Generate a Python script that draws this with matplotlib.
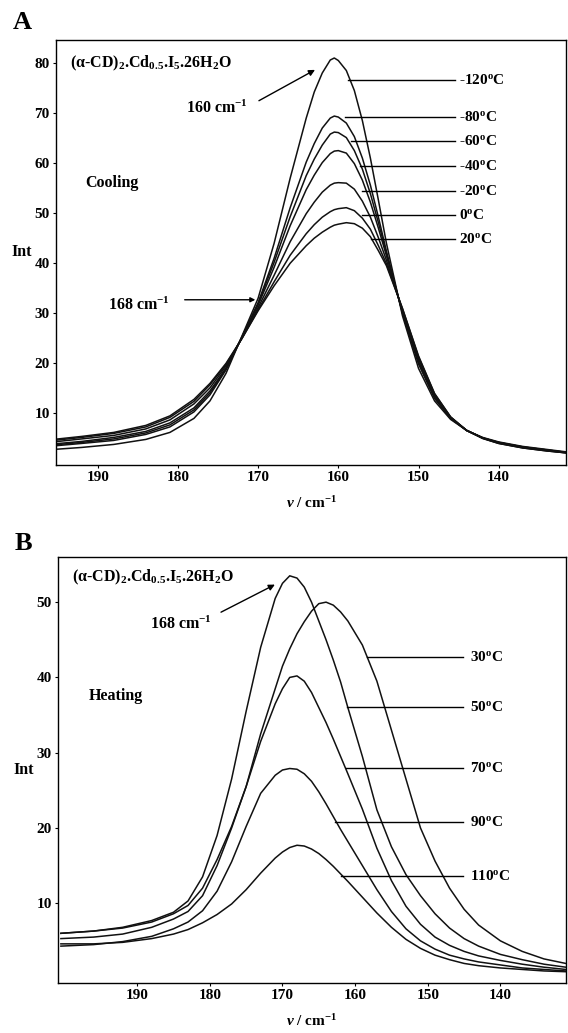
import numpy as np
import matplotlib
matplotlib.use('Agg')
import matplotlib.pyplot as plt

# panel A, cooling
x_cool = [195.5, 192, 188, 184, 181, 178, 176, 174, 172, 170, 168, 166, 164, 163, 162, 161, 160.5, 160,
          159, 158, 157, 156, 155, 154, 152, 150, 148, 146, 144, 142, 140, 137, 134, 131.5]
cool_m120 = [2.8, 3.2, 3.8, 4.8, 6.2, 9.0, 12.5, 18.0, 25.5, 33.0, 44.0, 57.0, 69.0, 74.2, 78.0, 80.6, 81.0, 80.5,
             78.5, 74.5, 68.5, 61.0, 52.6, 44.0, 29.5, 19.0, 12.5, 8.8, 6.6, 5.2, 4.3, 3.4, 2.8, 2.3]
cool_m80 = [3.5, 4.0, 4.6, 5.8, 7.3, 10.3, 13.7, 18.7, 25.3, 32.1, 41.0, 51.1, 60.2, 63.9, 67.0, 69.0, 69.4, 69.2,
            68.0, 65.3, 61.0, 55.6, 49.2, 42.4, 30.0, 19.9, 13.0, 9.0, 6.6, 5.1, 4.2, 3.3, 2.7, 2.2]
cool_m60 = [3.7, 4.2, 4.9, 6.1, 7.7, 10.7, 14.1, 18.9, 25.3, 31.9, 40.2, 49.3, 57.5, 60.8, 63.6, 65.8, 66.2, 66.1,
            65.1, 62.5, 58.8, 53.9, 48.1, 42.0, 30.2, 20.1, 13.2, 9.0, 6.6, 5.1, 4.2, 3.3, 2.7, 2.2]
cool_m40 = [3.9, 4.4, 5.2, 6.4, 8.1, 11.1, 14.5, 19.1, 25.2, 31.6, 39.2, 47.5, 54.7, 57.6, 60.1, 61.9, 62.4, 62.5,
            62.0, 59.9, 56.6, 52.2, 47.0, 41.5, 30.3, 20.4, 13.3, 9.1, 6.6, 5.1, 4.1, 3.2, 2.6, 2.2]
cool_m20 = [4.3, 4.9, 5.6, 6.9, 8.7, 11.9, 15.1, 19.5, 25.1, 31.1, 37.6, 44.3, 49.9, 52.2, 54.2, 55.6, 56.0, 56.1,
            56.0, 54.8, 52.4, 49.2, 45.1, 40.6, 30.6, 20.9, 13.6, 9.2, 6.6, 5.1, 4.1, 3.2, 2.6, 2.1]
cool_0 = [4.6, 5.2, 6.0, 7.3, 9.2, 12.4, 15.7, 19.8, 25.0, 30.7, 36.3, 41.6, 45.9, 47.7, 49.2, 50.3, 50.7, 50.9,
          51.1, 50.5, 49.0, 46.8, 43.5, 39.9, 30.9, 21.3, 13.9, 9.3, 6.6, 5.0, 4.0, 3.1, 2.5, 2.1]
cool_20 = [4.8, 5.4, 6.2, 7.6, 9.5, 12.8, 16.0, 20.0, 25.0, 30.5, 35.5, 40.0, 43.5, 45.0, 46.2, 47.2, 47.6, 47.8,
           48.1, 47.9, 47.0, 45.3, 42.5, 39.5, 31.0, 21.5, 14.0, 9.3, 6.6, 5.0, 4.0, 3.1, 2.5, 2.1]
cool_names = ['-120', '-80', '-60', '-40', '-20', '0', '20']
cool_lab_y = [76.6, 69.3, 64.4, 59.5, 54.5, 49.6, 44.8]
cool_lab_x = [158.8, 159.2, 158.4, 157.3, 157.1, 157.0, 155.9]

# panel B, heating
x_heat = [200.5, 196, 192, 188, 185, 183, 181, 179, 177, 175, 173, 171, 170, 169, 168, 167, 166,
          165, 164, 163, 162, 161, 159, 157, 155, 153, 151, 149, 147, 145, 143, 140, 137, 134, 131]
heat_30 = [6.0, 6.3, 6.7, 7.5, 8.6, 9.7, 12.0, 15.8, 20.2, 25.5, 32.5, 38.5, 41.5, 43.8, 45.8, 47.4, 48.8,
           49.8, 50.0, 49.6, 48.7, 47.5, 44.3, 39.5, 33.0, 26.5, 20.0, 15.6, 12.0, 9.2, 7.1, 5.0, 3.6, 2.6, 2.0]
heat_50 = [6.0, 6.3, 6.8, 7.7, 8.8, 10.3, 13.5, 19.0, 26.5, 35.5, 44.0, 50.5, 52.5, 53.5, 53.2, 52.0, 50.0,
           47.5, 45.0, 42.3, 39.4, 36.0, 29.5, 22.4, 17.5, 13.8, 11.0, 8.6, 6.7, 5.3, 4.3, 3.2, 2.5, 1.9, 1.5]
heat_70 = [5.3, 5.5, 5.9, 6.8, 7.9, 8.9, 11.0, 15.0, 20.0, 25.5, 31.5, 36.5, 38.5, 40.0, 40.2, 39.5, 38.0,
           36.0, 34.0, 31.8, 29.5, 27.2, 22.5, 17.3, 13.0, 9.6, 7.2, 5.5, 4.4, 3.6, 3.0, 2.4, 1.9, 1.5, 1.2]
heat_90 = [4.3, 4.5, 4.9, 5.6, 6.6, 7.5, 9.0, 11.6, 15.5, 20.2, 24.6, 27.0, 27.7, 27.9, 27.8, 27.2, 26.2,
           24.8, 23.2, 21.5, 19.8, 18.2, 15.0, 11.8, 8.9, 6.6, 5.0, 3.9, 3.1, 2.6, 2.2, 1.8, 1.4, 1.2, 1.0]
heat_110 = [4.6, 4.6, 4.8, 5.3, 5.9, 6.5, 7.4, 8.5, 9.9, 11.8, 14.0, 16.0, 16.8, 17.4, 17.7, 17.6, 17.2,
            16.6, 15.8, 14.9, 13.9, 12.9, 10.8, 8.7, 6.8, 5.2, 4.0, 3.1, 2.5, 2.0, 1.7, 1.4, 1.2, 1.0, 0.9]
heat_names = ['30', '50', '70', '90', '110']
heat_lab_y = [42.7, 36.1, 27.9, 20.8, 13.6]
heat_lab_x = [158.4, 161.1, 161.3, 162.8, 162.0]

compound = '(α-CD)$_2$.Cd$_{0.5}$.I$_5$.26H$_2$O'


def setup_axes(ax, xlim, ylim, yticks):
	ax.set_xlim(*xlim)
	ax.set_ylim(*ylim)
	ax.set_xticks([190, 180, 170, 160, 150, 140])
	ax.set_yticks(yticks)
	ax.tick_params(direction='out', length=2.5, width=0.8, labelsize=11, pad=2)
	for s in ax.spines.values():
		s.set_linewidth(1.0)
	ax.set_xlabel(r'$\nu$ / cm$^{-1}$', fontsize=11, labelpad=8)
	ax.set_ylabel('Int', fontsize=11.5, rotation=0, labelpad=9, va='center')


def draw_labels(ax, names, lx, ly, x_end, x_txt):
	for n, x0, y0 in zip(names, lx, ly):
		ax.plot([x0, x_end], [y0, y0], color='k', lw=1.0)
		ax.text(x_txt, y0, n + r'$^{\rm o}$C', fontsize=11, va='center', ha='left')


def main():
	plt.rcParams['font.family'] = ['Liberation Serif', 'DejaVu Serif']
	plt.rcParams['font.weight'] = 'bold'
	plt.rcParams['axes.labelweight'] = 'bold'
	plt.rcParams['mathtext.fontset'] = 'custom'
	plt.rcParams['mathtext.rm'] = 'Liberation Serif:bold'
	plt.rcParams['mathtext.it'] = 'Liberation Serif:bold:italic'
	plt.rcParams['mathtext.bf'] = 'Liberation Serif:bold'

	fig = plt.figure(figsize=(5.68, 10.33), dpi=100)
	ax1 = fig.add_axes([0.0986, 0.5499, 0.898, 0.4114])
	ax2 = fig.add_axes([0.1021, 0.0484, 0.894, 0.4124])

	# A
	for y in [cool_m120, cool_m80, cool_m60, cool_m40, cool_m20, cool_0, cool_20]:
		ax1.plot(x_cool, y, color='#111111', lw=1.1)
	setup_axes(ax1, (195.2, 131.6), (-0.3, 84.6), [10, 20, 30, 40, 50, 60, 70, 80])
	draw_labels(ax1, cool_names, cool_lab_x, cool_lab_y, 145.5, 144.9)
	ax1.text(193.5, 80, compound, fontsize=11.5, va='center', ha='left')
	ax1.text(191.6, 56, 'Cooling', fontsize=11.5, va='center', ha='left')
	ax1.text(171.3, 71.0, '160 cm$^{-1}$', fontsize=11.5, va='center', ha='right')
	ax1.annotate('', xy=(162.6, 78.9), xytext=(170.2, 72.2),
				 arrowprops=dict(arrowstyle='-|>', color='k', lw=1.0, mutation_scale=9))
	ax1.text(181.0, 31.5, '168 cm$^{-1}$', fontsize=11.5, va='center', ha='right')
	ax1.annotate('', xy=(170.0, 32.7), xytext=(179.5, 32.7),
				 arrowprops=dict(arrowstyle='-|>', color='k', lw=1.0, mutation_scale=7))
	fig.text(0.04, 0.978, 'A', fontsize=19, va='center', ha='center')

	# B
	for y in [heat_30, heat_50, heat_70, heat_90, heat_110]:
		ax2.plot(x_heat, y, color='#111111', lw=1.1)
	setup_axes(ax2, (200.9, 131.0), (-0.6, 56.0), [10, 20, 30, 40, 50])
	draw_labels(ax2, heat_names, heat_lab_x, heat_lab_y, 145.1, 144.2)
	ax2.text(199.0, 53.3, compound, fontsize=11.5, va='center', ha='left')
	ax2.text(196.7, 37.5, 'Heating', fontsize=11.5, va='center', ha='left')
	ax2.text(179.7, 47.0, '168 cm$^{-1}$', fontsize=11.5, va='center', ha='right')
	ax2.annotate('', xy=(170.7, 52.5), xytext=(178.8, 48.5),
				 arrowprops=dict(arrowstyle='-|>', color='k', lw=1.0, mutation_scale=9))
	fig.text(0.042, 0.474, 'B', fontsize=19, va='center', ha='center')

	fig.savefig('out.png', dpi=100)


if __name__ == '__main__':
	main()
